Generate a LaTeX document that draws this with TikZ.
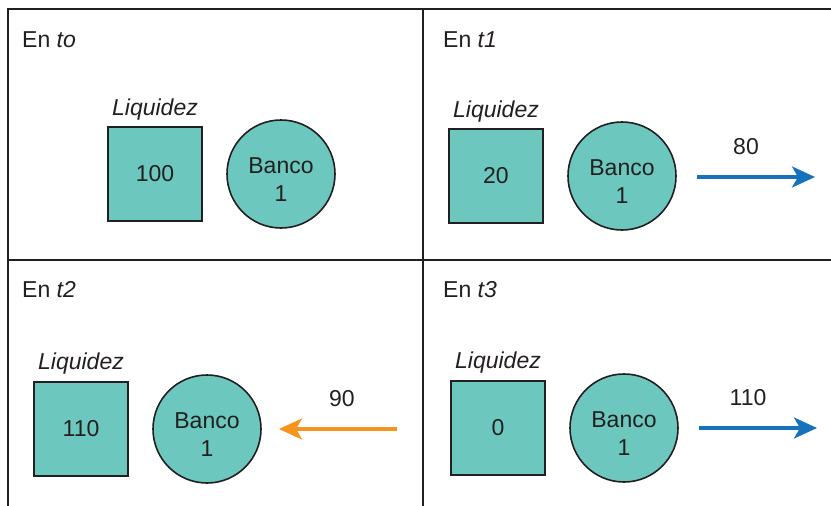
\documentclass[tikz,border=0pt]{standalone}
\usepackage{fontspec}
\setmainfont{Liberation Sans}
\usetikzlibrary{arrows.meta}
\definecolor{teal1}{RGB}{108,200,190}
\definecolor{ink}{RGB}{35,31,32}
\definecolor{blue1}{RGB}{22,114,186}
\definecolor{orange1}{RGB}{247,148,29}
\begin{document}
\begin{tikzpicture}[x=1pt,y=-1pt,
 every node/.style={font=\fontsize{23}{28}\selectfont, text=ink},
 grid/.style={draw=ink,line width=2pt},
 liq/.style={draw=ink,fill=teal1,line width=2pt,minimum size=94pt,inner sep=0pt},
 bank/.style={circle,draw=ink,fill=teal1,line width=1.6pt,minimum size=108pt,inner sep=0pt},
 banktext/.style={align=center,inner sep=0pt},
 flow/.style={line width=3.5pt,-{Stealth[length=23pt,width=21pt,inset=6pt]}},
 title/.style={anchor=base west,inner sep=0pt},
 lab/.style={anchor=base}]
\useasboundingbox (0,0) rectangle (831,506);
% grid
\draw[grid] (8,506) -- (8,9) -- (831,9);
\draw[grid] (423,9) -- (423,506);
\draw[grid] (8,260) -- (831,260);
% panel t0
\node[title] (t0) at (22,47) {En \textit{to}};
\node[lab] (l0) at (155,115) {\itshape Liquidez};
\node[liq] (s0) at (155,174) {100};
\node[bank] (b0) at (281,174) {};
\node[banktext] (bt0) at ([yshift=-6pt]b0.center) {Banco\\1};
% panel t1
\node[title] (t1) at (443,47) {En \textit{t1}};
\node[lab] (l1) at (496,117) {\itshape Liquidez};
\node[liq] (s1) at (496,176) {20};
\node[bank] (b1) at (622,176) {};
\node[banktext] (bt1) at ([yshift=-6pt]b1.center) {Banco\\1};
\coordinate (a1s) at (697,177);
\coordinate (a1e) at (815,177);
\draw[flow,blue1] (a1s) -- (a1e);
\node[lab] (n1) at (746,154) {80};
% panel t2
\node[title] (t2) at (22,297) {En \textit{t2}};
\node[lab] (l2) at (81,369) {\itshape Liquidez};
\node[liq] (s2) at (81,429) {110};
\node[bank] (b2) at (207,429) {};
\node[banktext] (bt2) at ([yshift=-6pt]b2.center) {Banco\\1};
\coordinate (a2s) at (397,429);
\coordinate (a2e) at (279,429);
\draw[flow,orange1] (a2s) -- (a2e);
\node[lab] (n2) at (342,406) {90};
% panel t3
\node[title] (t3) at (443,297) {En \textit{t3}};
\node[lab] (l3) at (498,368) {\itshape Liquidez};
\node[liq] (s3) at (498,428) {0};
\node[bank] (b3) at (624,428) {};
\node[banktext] (bt3) at ([yshift=-6pt]b3.center) {Banco\\1};
\coordinate (a3s) at (699,428);
\coordinate (a3e) at (817,428);
\draw[flow,blue1] (a3s) -- (a3e);
\node[lab] (n3) at (748,405) {110};
\end{tikzpicture}
\end{document}
